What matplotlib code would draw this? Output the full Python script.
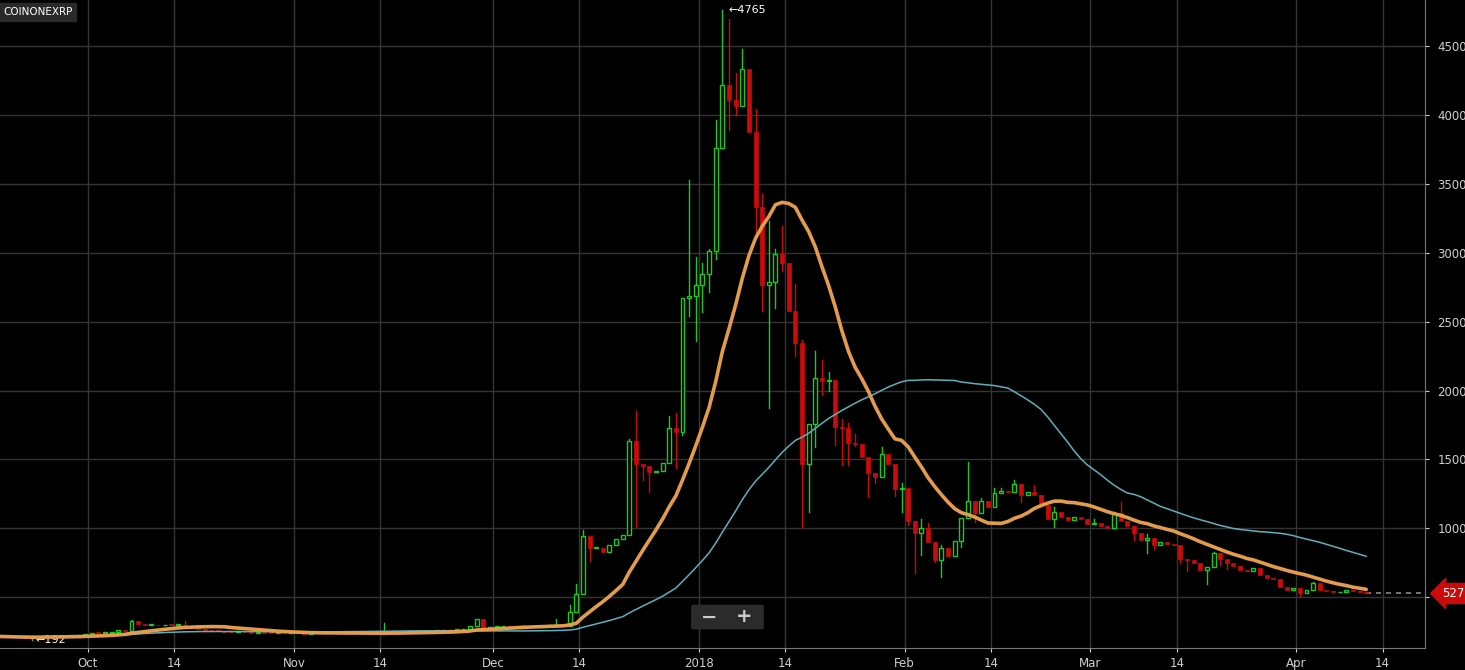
import matplotlib
matplotlib.use("Agg")
import matplotlib.pyplot as plt
import matplotlib.dates as mdates
from matplotlib.patches import Rectangle, FancyBboxPatch
import numpy as np
import pandas as pd
import datetime as dt

start_date = "2017-09-18"
closes = [
    # Sep 18-30
    215, 212, 210, 208, 205, 207, 210, 213, 216, 214, 218, 222, 226,
    # Oct
    235, 240, 238, 242, 248, 262, 258, 329, 305, 300, 300, 295, 300, 298, 300, 285,
    275, 268, 264, 258, 254, 250, 246, 247, 244, 242, 244, 242, 240, 242, 240,
    # Nov
    240, 238, 235, 237, 238, 240, 238, 241, 243, 241, 239, 237, 236, 235, 240,
    242, 244, 246, 248, 250, 252, 254, 256, 258, 262, 266, 272, 293, 341, 276,
    # Dec
    285, 288, 290, 286, 292, 290, 288, 285, 290, 292, 295, 290,
    390, 523, 947, 857, 857, 826, 876, 925, 955, 1637, 1465, 1450, 1410, 1420,
    1475, 1727, 1700, 2671, 2690,
    # Jan
    2765, 2848, 3011, 3761, 4220, 4114, 4068, 4335, 3881, 3336, 2770, 2790, 2992,
    2928, 2575, 2346, 1465, 1758, 2092, 2070, 2075, 1737, 1731, 1620, 1610, 1520,
    1404, 1375, 1540, 1470, 1286,
    # Feb
    1290, 1056, 969, 1000, 903, 770, 858, 800, 908, 1075, 1201, 1114, 1199, 1155,
    1257, 1270, 1262, 1322, 1242, 1262, 1242, 1170, 1070, 1121, 1085, 1063, 1080, 1068,
    # Mar
    1030, 1040, 1020, 1000, 1110, 1056, 1020, 969, 916, 930, 879, 900, 885, 880,
    776, 770, 750, 698, 720, 823, 778, 750, 725, 700, 690, 715, 664, 640, 635, 574, 555,
    # Apr
    570, 533, 550, 603, 555, 545, 535, 540, 550, 543, 540, 527,
]
first_open = 218

# notable wick extremes (date -> value)
high_marks = {
    "2017-10-08": 335, "2017-10-16": 330, "2017-11-15": 313, "2017-12-11": 340,
    "2017-12-13": 445, "2017-12-14": 595, "2017-12-15": 988, "2017-12-22": 1651,
    "2017-12-23": 1852, "2017-12-28": 1815, "2017-12-29": 1840, "2017-12-31": 3530,
    "2018-01-01": 2970, "2018-01-02": 2928, "2018-01-03": 3030, "2018-01-04": 3962,
    "2018-01-05": 4765, "2018-01-06": 4700, "2018-01-07": 4307, "2018-01-08": 4478,
    "2018-01-10": 4048, "2018-01-11": 3430, "2018-01-12": 3230, "2018-01-13": 3029,
    "2018-01-14": 3195, "2018-01-16": 2776, "2018-01-17": 2368, "2018-01-19": 2288,
    "2018-01-20": 2219, "2018-01-21": 2139, "2018-01-23": 1795, "2018-01-24": 1766,
    "2018-01-25": 1686, "2018-01-29": 1593, "2018-02-01": 1332, "2018-02-04": 1068,
    "2018-02-05": 1041, "2018-02-07": 876, "2018-02-11": 1482, "2018-02-13": 1220,
    "2018-02-15": 1293, "2018-02-16": 1290, "2018-02-18": 1351, "2018-02-21": 1313,
    "2018-02-24": 1155, "2018-03-02": 1068, "2018-03-05": 1121, "2018-03-06": 1194,
    "2018-03-10": 959, "2018-03-20": 831, "2018-04-04": 610,
}
low_marks = {
    "2017-09-23": 192, "2017-12-16": 760, "2017-12-23": 1010, "2017-12-24": 1350,
    "2017-12-25": 1264, "2017-12-29": 1440, "2017-12-30": 1680, "2017-12-31": 2540,
    "2018-01-01": 2363, "2018-01-02": 2570, "2018-01-03": 2713, "2018-01-04": 2956,
    "2018-01-05": 3760, "2018-01-06": 3890, "2018-01-07": 4005, "2018-01-10": 3115,
    "2018-01-11": 2575, "2018-01-12": 1874, "2018-01-13": 2600, "2018-01-14": 2870,
    "2018-01-16": 2254, "2018-01-17": 1010, "2018-01-18": 1120, "2018-01-19": 1594,
    "2018-01-20": 1968, "2018-01-21": 2000, "2018-01-22": 1608, "2018-01-23": 1460,
    "2018-01-24": 1460, "2018-01-25": 1597, "2018-01-26": 1533, "2018-01-27": 1230,
    "2018-01-28": 1330, "2018-01-31": 1237, "2018-02-01": 1119, "2018-02-02": 1025,
    "2018-02-03": 676, "2018-02-04": 807, "2018-02-06": 758, "2018-02-07": 649,
    "2018-02-10": 867, "2018-02-11": 1088, "2018-02-12": 1045, "2018-02-19": 1190,
    "2018-02-24": 1012, "2018-03-08": 916, "2018-03-10": 823, "2018-03-11": 850,
    "2018-03-15": 749, "2018-03-16": 693, "2018-03-19": 596, "2018-03-21": 734,
    "2018-03-22": 704, "2018-04-02": 504,
}

y_ticks = [500, 1000, 1500, 2000, 2500, 3000, 3500, 4000, 4500]
symbol = "COINONEXRP"

dates = pd.date_range(start_date, periods=len(closes), freq="D")
c = np.array(closes, float)
o = np.concatenate([[first_open], c[:-1]])
hi = np.maximum(o, c)
lo = np.minimum(o, c)
for d, v in high_marks.items():
    i = dates.get_loc(pd.Timestamp(d)); hi[i] = max(hi[i], v)
for d, v in low_marks.items():
    i = dates.get_loc(pd.Timestamp(d)); lo[i] = min(lo[i], v)
ma15 = pd.Series(c).rolling(15, min_periods=1).mean().values
ma50 = pd.Series(c).rolling(50, min_periods=1).mean().values

fig = plt.figure(figsize=(14.65, 6.7), dpi=100, facecolor="black")
ax = fig.add_axes([0, 22/670, 1425/1465, 648/670])
ax.set_facecolor("black")
x = mdates.date2num(dates) - 0.45
oct1 = mdates.date2num(dt.datetime(2017, 10, 1))
ax.set_xlim(oct1 - 13.26, oct1 + 201.4)
ax.set_ylim(131, 4837)

GREEN, RED = "#1ec81e", "#cc0a0a"
w = 0.6
for xi, oi, ci, h, l in zip(x, o, c, hi, lo):
    up = ci >= oi
    col = GREEN if up else RED
    top, bot = max(oi, ci), min(oi, ci)
    if h > top:
        ax.plot([xi, xi], [top, h], color=col, lw=1, zorder=3)
    if l < bot:
        ax.plot([xi, xi], [l, bot], color=col, lw=1, zorder=3)
    hgt = max(top - bot, 6)
    if up:
        ax.add_patch(Rectangle((xi - w/2, bot), w, hgt, facecolor="black",
                               edgecolor=col, lw=1, zorder=4))
    else:
        ax.add_patch(Rectangle((xi - w/2, bot), w, hgt, facecolor=col,
                               edgecolor=col, lw=0.5, zorder=4))

ax.plot(x, ma50, color="#5fb0bd", lw=1.1, zorder=5)
ax.plot(x, ma15, color="#e39b4c", lw=2.6, zorder=6, solid_capstyle="round")

# grid
ax.set_yticks(y_ticks)
ax.set_yticklabels(["" if t == 500 else str(t) for t in y_ticks])
ticks = []
labels = []
for m in [(2017,10),(2017,11),(2017,12),(2018,1),(2018,2),(2018,3),(2018,4)]:
    d1 = dt.datetime(m[0], m[1], 1)
    ticks += [mdates.date2num(d1), mdates.date2num(dt.datetime(m[0], m[1], 14))]
    labels += ["2018" if m == (2018, 1) else d1.strftime("%b"), "14"]
ax.set_xticks(ticks)
ax.set_xticklabels(labels)
ax.grid(True, color="#343434", lw=1)
ax.set_axisbelow(True)
ax.yaxis.tick_right()
ax.tick_params(colors="#cfcfcf", labelsize=8.5, length=3)
ax.tick_params(axis="y", pad=6)
for s in ["top", "left"]:
    ax.spines[s].set_visible(False)
for s in ["right", "bottom"]:
    ax.spines[s].set_color("#777777")

# annotations
imax = int(np.argmax(hi)); imin = int(np.argmin(lo))
ax.text(x[imax] + 1, hi[imax], "←%d" % hi[imax], color="white", fontsize=8, va="center", ha="left")
ax.text(x[imin] + 0.5, lo[imin], "←%d" % lo[imin], color="white", fontsize=8, va="center", ha="left")

# last price line and tag
ax.plot([x[-1], ax.get_xlim()[1]], [c[-1], c[-1]], color="#888888", lw=1.2, ls=(0, (3, 3)), zorder=2)
ax.annotate("%d" % c[-1], xy=(1.0, c[-1]), xycoords=("axes fraction", "data"),
            xytext=(12, 0), textcoords="offset points", color="white", fontsize=8.5,
            va="center", ha="left", annotation_clip=False,
            bbox=dict(boxstyle="larrow,pad=0.3", fc="#cc0a0a", ec="#cc0a0a"))

fig.text(3/1465, 1 - 12/670, symbol, color="white", fontsize=7.5, va="center", ha="left",
         bbox=dict(boxstyle="square,pad=0.35", fc="#2a2a2a", ec="#2a2a2a"))

# zoom control
fig.patches.append(FancyBboxPatch((694/1465, 1 - 628/670), 67/1465, 22/670,
                                  boxstyle="round,pad=0.002", transform=fig.transFigure,
                                  fc="#2b2b2b", ec="none", zorder=10))
fig.text(709/1465, 1 - 617/670, "−", color="#cccccc", fontsize=14, ha="center", va="center", weight="bold", zorder=11)
fig.text(744/1465, 1 - 617/670, "+", color="#cccccc", fontsize=14, ha="center", va="center", weight="bold", zorder=11)

fig.savefig("out.png", dpi=100, facecolor="black")
